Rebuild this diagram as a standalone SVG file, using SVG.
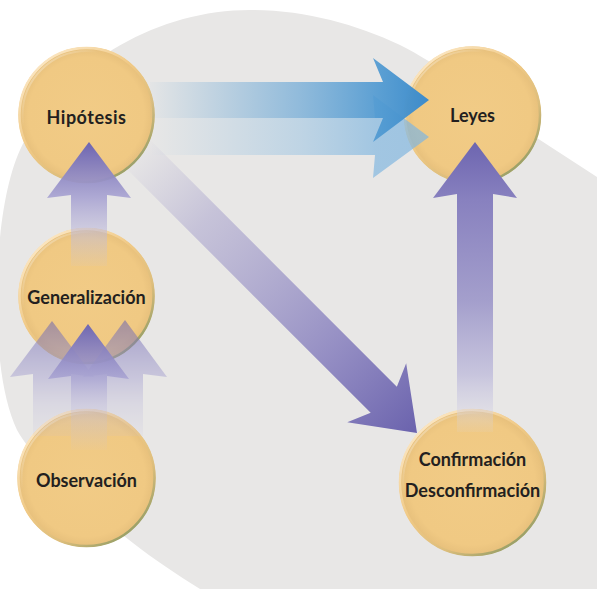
<svg xmlns="http://www.w3.org/2000/svg" width="597" height="589" viewBox="0 0 597 589">
<style>
.lbl{font-family:Lato,"Open Sans","Liberation Sans",sans-serif;font-weight:700;font-size:18px;fill:#231F20;text-anchor:middle}
.disk{fill:url(#gold)}
.rim{fill:none;stroke:url(#rimg);stroke-width:2.5}
.hl{fill:none;stroke:url(#hlg);stroke-width:2}
</style>
<defs>
<radialGradient id="gold" cx="0.5" cy="0.5" r="0.5">
<stop offset="0" stop-color="#F1CB86"/>
<stop offset="0.85" stop-color="#F0C983"/>
<stop offset="1" stop-color="#E6BF7B"/>
</radialGradient>
<linearGradient id="rimg" x1="0.15" y1="0.1" x2="0.85" y2="0.95">
<stop offset="0" stop-color="#FBE6C2"/>
<stop offset="0.4" stop-color="#F0C985"/>
<stop offset="0.7" stop-color="#DDBE7C"/>
<stop offset="1" stop-color="#8C9A63"/>
</linearGradient>
<linearGradient id="hlg" x1="0" y1="0" x2="0.6" y2="0.6">
<stop offset="0" stop-color="#FFFFFF" stop-opacity="0.55"/>
<stop offset="0.5" stop-color="#FFFFFF" stop-opacity="0"/>
</linearGradient>
<linearGradient id="blueUp" gradientUnits="userSpaceOnUse" x1="150" y1="0" x2="429" y2="0">
<stop offset="0" stop-color="#5A9FD4" stop-opacity="0.03"/>
<stop offset="0.54" stop-color="#5A9FD4" stop-opacity="0.62"/>
<stop offset="0.83" stop-color="#4D98D1" stop-opacity="0.92"/>
<stop offset="1" stop-color="#3C8BCB" stop-opacity="1"/>
</linearGradient>
<linearGradient id="blueLo" gradientUnits="userSpaceOnUse" x1="150" y1="0" x2="429" y2="0">
<stop offset="0" stop-color="#8CBDE2" stop-opacity="0"/>
<stop offset="0.54" stop-color="#8CBDE2" stop-opacity="0.45"/>
<stop offset="0.81" stop-color="#86B9E0" stop-opacity="0.72"/>
<stop offset="1" stop-color="#7FB5DF" stop-opacity="0.7"/>
</linearGradient>
<linearGradient id="diag" gradientUnits="userSpaceOnUse" x1="-400" y1="0" x2="0" y2="0">
<stop offset="0" stop-color="#A7A2CC" stop-opacity="0"/>
<stop offset="0.25" stop-color="#A49ECB" stop-opacity="0.5"/>
<stop offset="0.7" stop-color="#8C85C0" stop-opacity="0.9"/>
<stop offset="1" stop-color="#6A62AD" stop-opacity="1"/>
</linearGradient>
<linearGradient id="vLeyes" gradientUnits="userSpaceOnUse" x1="0" y1="432" x2="0" y2="142">
<stop offset="0" stop-color="#D9D8E6" stop-opacity="0.1"/>
<stop offset="0.1" stop-color="#CFCDE2" stop-opacity="0.55"/>
<stop offset="0.2" stop-color="#C3C0DC" stop-opacity="0.9"/>
<stop offset="0.45" stop-color="#A49FCC" stop-opacity="1"/>
<stop offset="0.8" stop-color="#8881BF" stop-opacity="1"/>
<stop offset="1" stop-color="#6D65B0" stop-opacity="1"/>
</linearGradient>
<linearGradient id="vHip" gradientUnits="userSpaceOnUse" x1="0" y1="266" x2="0" y2="142">
<stop offset="0" stop-color="#C8C5DE" stop-opacity="0.1"/>
<stop offset="0.3" stop-color="#BCB8DA" stop-opacity="0.6"/>
<stop offset="0.55" stop-color="#A8A3D2" stop-opacity="0.9"/>
<stop offset="1" stop-color="#6C64B1" stop-opacity="1"/>
</linearGradient>
<linearGradient id="vObs" gradientUnits="userSpaceOnUse" x1="0" y1="450" x2="0" y2="322">
<stop offset="0" stop-color="#C8C5DE" stop-opacity="0.05"/>
<stop offset="0.35" stop-color="#BCB8DA" stop-opacity="0.55"/>
<stop offset="0.55" stop-color="#A8A3D2" stop-opacity="0.85"/>
<stop offset="1" stop-color="#6C64B1" stop-opacity="1"/>
</linearGradient>
</defs>

<path id="backdrop" fill="#E8E7E6" d="M597,177 L520,127 C490,107 440,64 400,45 C355,24 305,10 250,10 C160,10 70,60 25,140 C5,175 -3,240 -3,300 C-3,355 3,400 17,430 C40,470 90,510 133,543 C155,560 180,577 205,592 L597,592 Z"/>

<g id="nodes">
<g id="node-hipotesis">
<circle class="disk" cx="86.5" cy="115" r="68"/>
<circle class="rim" cx="86.5" cy="115" r="67"/>
<circle class="hl" cx="86.5" cy="115" r="64"/>
<text class="lbl" x="86.5" y="123.5" font-size="20" letter-spacing="0.5">Hipótesis</text>
</g>
<g id="node-leyes">
<circle class="disk" cx="472.5" cy="115" r="68.5"/>
<circle class="rim" cx="472.5" cy="115" r="67.5"/>
<circle class="hl" cx="472.5" cy="115" r="64.5"/>
<text class="lbl" x="472.5" y="122">Leyes</text>
</g>
<g id="node-generalizacion">
<circle class="disk" cx="86.5" cy="296" r="68"/>
<circle class="rim" cx="86.5" cy="296" r="67"/>
<circle class="hl" cx="86.5" cy="296" r="64"/>
<text class="lbl" x="86.5" y="304">Generalización</text>
</g>
<g id="node-observacion">
<circle class="disk" cx="86.5" cy="478" r="69"/>
<circle class="rim" cx="86.5" cy="478" r="68"/>
<circle class="hl" cx="86.5" cy="478" r="65"/>
<text class="lbl" x="86.5" y="487">Observación</text>
</g>
<g id="node-confirmacion">
<circle class="disk" cx="472.5" cy="482.5" r="73.5"/>
<circle class="rim" cx="472.5" cy="482.5" r="72.5"/>
<circle class="hl" cx="472.5" cy="482.5" r="69.5"/>
<text class="lbl" x="472.5" y="466">Confirmación</text>
<text class="lbl" x="472.5" y="497">Desconfirmación</text>
</g>
</g>

<g id="connectors">
<path fill="url(#blueLo)" d="M150,118 H375 L373,95 L429,137 L373,178 L375,155 H150 Z"/>
<path fill="url(#blueUp)" d="M150,82 H383 L373,58 L429,100 L373,142 L383,118 H150 Z"/>
<g transform="translate(417,433) rotate(45)">
<path fill="url(#diag)" d="M-400,-18.5 L-47,-18.5 L-57,-41.7 L0,0 L-57,41.7 L-47,18.5 L-400,18.5 Z"/>
</g>
<path fill="url(#vLeyes)" d="M457,432 V194 L433,198 L475,142 L517,198 L493,194 V432 Z"/>
<path fill="url(#vHip)" d="M71,266 V195 L47,198 L89,142 L131,198 L107,195 V266 Z"/>
<g opacity="0.55">
<path fill="url(#vObs)" d="M33,436 V374 L10,377 L52,321 L94,377 L71,374 V436 Z"/>
<path fill="url(#vObs)" d="M107,436 V374 L83,377 L125,320 L167,377 L143,374 V436 Z"/>
</g>
<path fill="url(#vObs)" d="M71,450 V376 L48,379 L88,324 L129,379 L107,376 V450 Z"/>
</g>
</svg>
